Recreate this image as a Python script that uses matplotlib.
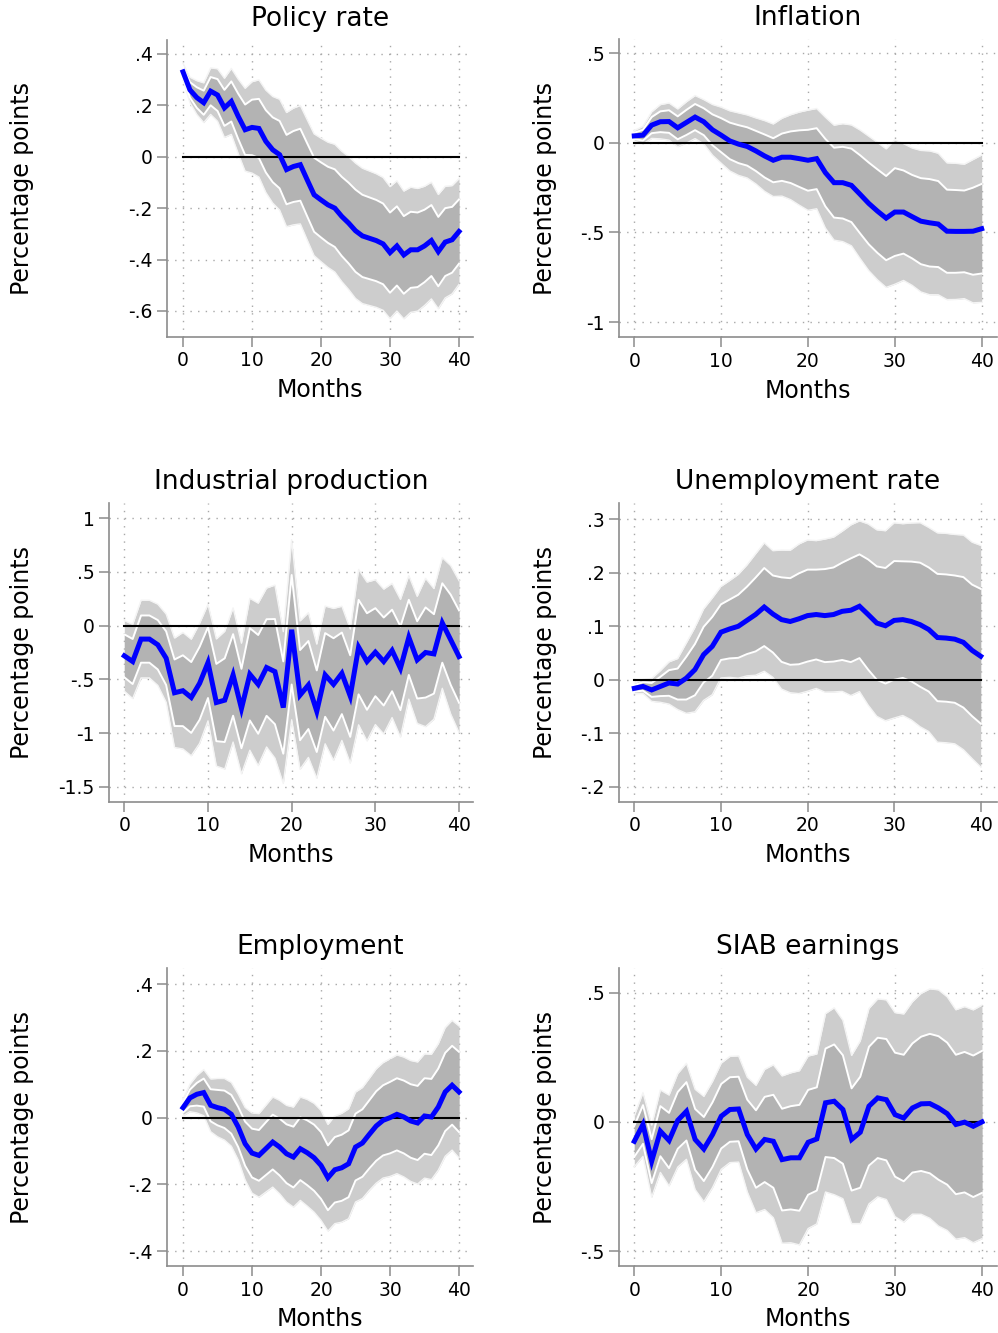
import numpy as np
import matplotlib
matplotlib.use("Agg")
import matplotlib.pyplot as plt
from matplotlib.ticker import FuncFormatter

months = np.arange(41)

# point estimates (percentage points) and standard errors
policy_irf = [0.330, 0.260, 0.230, 0.210, 0.255, 0.240, 0.190, 0.215, 0.157, 0.105,
              0.114, 0.110, 0.060, 0.027, 0.008, -0.050, -0.038, -0.031, -0.090, -0.148,
              -0.168, -0.187, -0.200, -0.232, -0.258, -0.288, -0.308, -0.317, -0.326, -0.339,
              -0.373, -0.347, -0.382, -0.362, -0.362, -0.347, -0.326, -0.369, -0.332, -0.323,
              -0.291]
policy_se = [0.020, 0.030, 0.040, 0.047, 0.055, 0.062, 0.070, 0.078, 0.088, 0.098,
             0.108, 0.115, 0.121, 0.126, 0.131, 0.135, 0.138, 0.140, 0.142, 0.144,
             0.146, 0.148, 0.151, 0.154, 0.157, 0.160, 0.160, 0.159, 0.158, 0.157,
             0.156, 0.154, 0.151, 0.148, 0.145, 0.141, 0.138, 0.135, 0.132, 0.128,
             0.125]

infl_irf = [0.039, 0.043, 0.099, 0.118, 0.119, 0.084, 0.114, 0.144, 0.118, 0.073,
            0.043, 0.011, -0.007, -0.020, -0.045, -0.073, -0.097, -0.080, -0.080, -0.088,
            -0.097, -0.088, -0.166, -0.222, -0.222, -0.237, -0.287, -0.338, -0.381, -0.420,
            -0.386, -0.386, -0.412, -0.437, -0.446, -0.453, -0.493, -0.494, -0.494, -0.493,
            -0.479]
infl_se = [0.018, 0.030, 0.045, 0.058, 0.063, 0.064, 0.070, 0.073, 0.075, 0.086,
           0.095, 0.102, 0.106, 0.107, 0.112, 0.120, 0.123, 0.132, 0.144, 0.158,
           0.170, 0.170, 0.188, 0.195, 0.200, 0.205, 0.218, 0.228, 0.233, 0.235,
           0.245, 0.232, 0.233, 0.240, 0.244, 0.240, 0.232, 0.231, 0.228, 0.243,
           0.250]

ip_irf = [-0.281, -0.334, -0.125, -0.125, -0.178, -0.303, -0.625, -0.606, -0.669, -0.537,
          -0.344, -0.716, -0.694, -0.459, -0.772, -0.453, -0.547, -0.390, -0.428, -0.763,
          -0.038, -0.647, -0.553, -0.797, -0.459, -0.547, -0.444, -0.656, -0.200, -0.334,
          -0.247, -0.334, -0.231, -0.397, -0.109, -0.319, -0.250, -0.263, 0.025, -0.131,
          -0.288]
ip_se = [0.20, 0.21, 0.22, 0.22, 0.23, 0.25, 0.31, 0.33, 0.33, 0.34,
         0.33, 0.36, 0.39, 0.38, 0.37, 0.43, 0.46, 0.45, 0.49, 0.43,
         0.51, 0.42, 0.41, 0.38, 0.39, 0.43, 0.38, 0.38, 0.44, 0.45,
         0.41, 0.41, 0.38, 0.39, 0.35, 0.36, 0.42, 0.37, 0.37, 0.42,
         0.43]

unemp_irf = [-0.016, -0.0125, -0.019, -0.0125, -0.006, -0.008, 0.003, 0.019, 0.047, 0.0625,
             0.089, 0.095, 0.100, 0.111, 0.122, 0.136, 0.123, 0.1125, 0.109, 0.114,
             0.120, 0.122, 0.120, 0.122, 0.128, 0.130, 0.1375, 0.122, 0.106, 0.101,
             0.111, 0.1125, 0.109, 0.103, 0.094, 0.079, 0.078, 0.076, 0.070, 0.055,
             0.044]
unemp_se = [0.006, 0.008, 0.013, 0.018, 0.024, 0.029, 0.040, 0.048, 0.052, 0.055,
            0.052, 0.055, 0.059, 0.063, 0.069, 0.073, 0.072, 0.079, 0.081, 0.085,
            0.086, 0.084, 0.087, 0.088, 0.091, 0.097, 0.097, 0.103, 0.106, 0.108,
            0.111, 0.109, 0.112, 0.116, 0.116, 0.119, 0.119, 0.119, 0.122, 0.123,
            0.126]

emp_irf = [0.030, 0.059, 0.070, 0.075, 0.037, 0.030, 0.025, 0.010, -0.028, -0.078,
           -0.106, -0.113, -0.093, -0.073, -0.088, -0.108, -0.118, -0.093, -0.105, -0.120,
           -0.143, -0.180, -0.156, -0.150, -0.138, -0.088, -0.076, -0.050, -0.025, -0.008,
           0.000, 0.010, 0.002, -0.010, -0.016, 0.005, 0.002, 0.032, 0.077, 0.097,
           0.077]
emp_se = [0.015, 0.025, 0.034, 0.042, 0.048, 0.053, 0.056, 0.058, 0.060, 0.066,
          0.073, 0.076, 0.079, 0.082, 0.085, 0.088, 0.091, 0.094, 0.097, 0.099,
          0.100, 0.097, 0.098, 0.099, 0.100, 0.100, 0.101, 0.102, 0.104, 0.105,
          0.107, 0.108, 0.109, 0.110, 0.111, 0.113, 0.114, 0.115, 0.117, 0.118,
          0.120]

siab_irf = [-0.075, -0.010, -0.152, -0.036, -0.072, 0.006, 0.041, -0.068, -0.105, -0.049,
            0.022, 0.048, 0.050, -0.049, -0.105, -0.068, -0.075, -0.146, -0.139, -0.139,
            -0.079, -0.066, 0.074, 0.080, 0.048, -0.068, -0.040, 0.061, 0.093, 0.086,
            0.028, 0.015, 0.054, 0.070, 0.071, 0.054, 0.032, -0.010, -0.001, -0.017,
            0.000]
siab_se = [0.060, 0.075, 0.085, 0.097, 0.107, 0.110, 0.113, 0.118, 0.124, 0.125,
           0.125, 0.125, 0.125, 0.135, 0.150, 0.165, 0.180, 0.197, 0.200, 0.205,
           0.203, 0.200, 0.210, 0.220, 0.210, 0.198, 0.215, 0.230, 0.233, 0.235,
           0.240, 0.245, 0.250, 0.260, 0.270, 0.278, 0.275, 0.270, 0.272, 0.274,
           0.275]

titles = ["Policy rate", "Inflation", "Industrial production",
          "Unemployment rate", "Employment", "SIAB earnings"]
yticks = [[0.4, 0.2, 0, -0.2, -0.4, -0.6],
          [0.5, 0, -0.5, -1],
          [1, 0.5, 0, -0.5, -1, -1.5],
          [0.3, 0.2, 0.1, 0, -0.1, -0.2],
          [0.4, 0.2, 0, -0.2, -0.4],
          [0.5, 0, -0.5]]
xticks = [0, 10, 20, 30, 40]

series = [(policy_irf, policy_se), (infl_irf, infl_se), (ip_irf, ip_se),
          (unemp_irf, unemp_se), (emp_irf, emp_se), (siab_irf, siab_se)]

# layout in pixels: left, top, right, bottom of each plot region
W, H = 998, 1333
boxes = [(167.3, 40, 473, 336.7), (619, 39.3, 996.7, 337.3),
         (109, 503.3, 473, 801.7), (619, 503.3, 997, 801.7),
         (167.3, 968.3, 473, 1266), (619, 968, 997, 1266)]
xlims = [(-2.28, 42.03), (-1.76, 41.73), (-1.83, 41.67),
         (-1.77, 41.88), (-2.28, 42.03), (-1.76, 41.73)]
ylims = [(-0.70, 0.454), (-1.085, 0.578), (-1.64, 1.14),
         (-0.228, 0.33), (-0.444, 0.447), (-0.558, 0.596)]

Z68, Z90 = 1.0, 1.645
SPINE = "#8c8c8c"


def stata_fmt(v, pos):
    s = f"{v:g}"
    if s.startswith("0."):
        s = s[1:]
    elif s.startswith("-0."):
        s = "-" + s[2:]
    return s


fig = plt.figure(figsize=(W / 100, H / 100), dpi=100)
plt.rcParams['font.family'] = ['DejaVu Sans']

for i in range(6):
    l, t, r, b = boxes[i]
    ax = fig.add_axes([l / W, 1 - b / H, (r - l) / W, (b - t) / H])
    irf = np.array(series[i][0])
    se = np.array(series[i][1])

    ax.fill_between(months, irf - Z90 * se, irf + Z90 * se, color="#cdcdcd", lw=0, zorder=2)
    ax.plot(months, irf + Z90 * se, color="#f4f4f4", lw=1.0, zorder=2.5)
    ax.plot(months, irf - Z90 * se, color="#f4f4f4", lw=1.0, zorder=2.5)
    ax.fill_between(months, irf - Z68 * se, irf + Z68 * se, color="#b3b3b3", lw=0, zorder=3)
    ax.plot(months, irf + Z68 * se, color="white", lw=1.4, zorder=3.5)
    ax.plot(months, irf - Z68 * se, color="white", lw=1.4, zorder=3.5)
    ax.plot([0, 40], [0, 0], color="black", lw=1.5, zorder=4)
    ax.plot(months, irf, color="#0000ff", lw=3.6, zorder=5, solid_joinstyle="miter")

    ax.set_xlim(*xlims[i])
    ax.set_ylim(*ylims[i])
    ax.set_xticks(xticks)
    ax.set_yticks(yticks[i])
    ax.yaxis.set_major_formatter(FuncFormatter(stata_fmt))
    ax.grid(True, color="#a8a8a8", lw=1.0, linestyle=(0, (1, 4.5)))
    ax.set_axisbelow(True)

    for side in ["top", "right"]:
        ax.spines[side].set_visible(False)
    for side in ["left", "bottom"]:
        ax.spines[side].set_color(SPINE)
        ax.spines[side].set_linewidth(1.2)
    ax.tick_params(axis="both", direction="out", length=7, width=1.1, color=SPINE,
                   labelsize=13.5, labelcolor="black", pad=3.5)

    ax.set_ylabel("Percentage points", fontsize=17, va="center")
    ylab_x = 22 if i % 2 == 0 else 545
    ax.yaxis.set_label_coords(ylab_x / W, 1 - (t + b) / 2 / H, transform=fig.transFigure)
    ax.set_xlabel("Months", fontsize=17, va="center")
    ax.xaxis.set_label_coords((l + r) / 2 / W, 1 - (b + 53.5) / H, transform=fig.transFigure)

    fig.text((l + r) / 2 / W, 1 - (t - 21.5) / H, titles[i], fontsize=19,
             ha="center", va="center")

fig.savefig("out.png", dpi=100, facecolor="white")
